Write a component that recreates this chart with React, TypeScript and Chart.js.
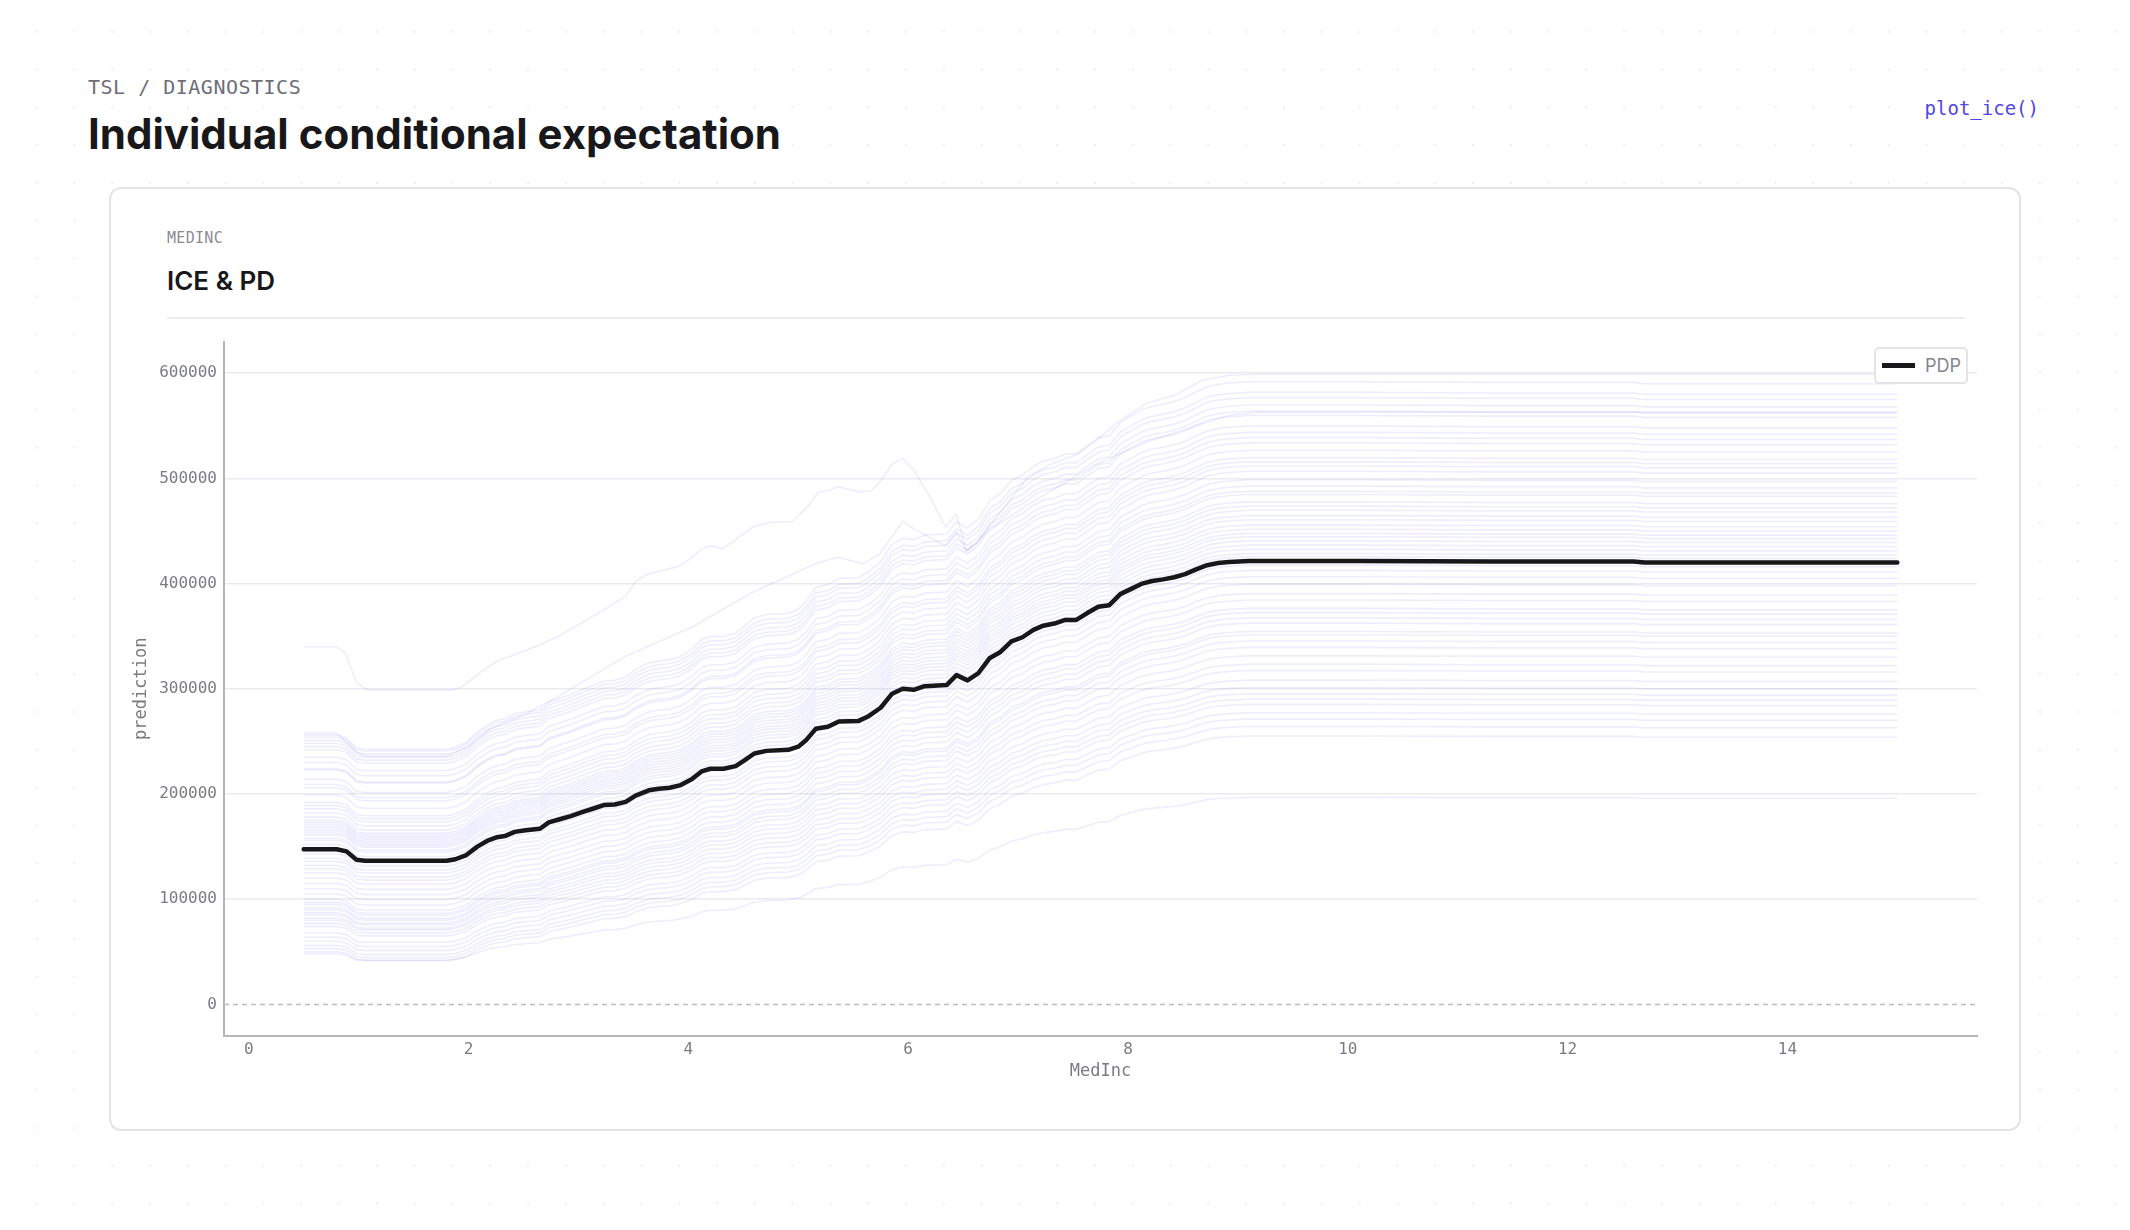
import React, { useEffect, useRef } from "react";
import { Chart, registerables } from "chart.js";

Chart.register(...registerables);

const MONO = '"DejaVu Sans Mono", "Liberation Mono", monospace';
const SANS = 'Inter, "Noto Sans", sans-serif';

// ---- axis ticks ----
const xTickValues = [0, 2, 4, 6, 8, 10, 12, 14];
const yTickValues = [0, 100000, 200000, 300000, 400000, 500000, 600000];

// ---- PDP (partial dependence) ----
const pdpX = [
  0.5, 0.8, 0.89, 0.98, 1.06, 1.8, 1.88, 1.98, 2.08, 2.18, 2.26, 2.33, 2.42, 2.52, 2.65, 2.73, 2.83, 2.93,
  3.04, 3.13, 3.23, 3.33, 3.43, 3.52, 3.64, 3.73, 3.83, 3.93, 4.03, 4.12, 4.2, 4.32, 4.43, 4.51, 4.6, 4.71,
  4.91, 5.0, 5.07, 5.16, 5.27, 5.37, 5.55, 5.64, 5.75, 5.85, 5.95, 6.05, 6.15, 6.35, 6.44, 6.54, 6.64, 6.74,
  6.84, 6.94, 7.04, 7.14, 7.23, 7.33, 7.43, 7.53, 7.63, 7.73, 7.83, 7.93, 8.03, 8.13, 8.22, 8.32, 8.42, 8.52,
  8.62, 8.72, 8.82, 8.92, 9.1, 10.1, 11.3, 12.6, 12.7, 15.0,
];
const pdpY = [
  147500, 147500, 145500, 137500, 136500, 136500, 138000, 142000, 150000, 156000, 159000, 160000, 164000,
  165500, 167000, 173000, 176000, 179000, 183000, 186000, 189500, 190000, 192500, 198500, 203500, 205000,
  206000, 208500, 214000, 221500, 224000, 224000, 226500, 232000, 238500, 241000, 242000, 245000, 251000,
  262000, 264000, 269000, 269500, 274000, 282000, 295000, 300000, 299000, 302500, 303500, 313000, 308000,
  315000, 329000, 335000, 345000, 349000, 356000, 360000, 362000, 365500, 365500, 372000, 378000, 379500,
  390000, 395000, 400000, 402500, 404000, 406000, 409000, 413500, 417500, 419500, 420500, 421500, 421500,
  421000, 421000, 420000, 420000,
];

// ---- ICE curves: left plateau level and right plateau level (thousands) ----
const iceStart = [
  256, 254, 251, 248, 245, 242, 235, 230, 224, 223, 214, 209, 206, 199, 192, 189, 186, 182, 178, 175, 173,
  171, 169, 167, 165, 163, 161, 158, 156, 152, 149, 146, 143, 139, 136, 132, 129, 125, 120, 115, 110, 105,
  100, 97, 95, 92, 90, 87, 85, 82, 80, 77, 74, 68, 64, 60, 56, 53, 50, 48,
];
const iceEnd = [
  590, 580, 575, 568, 562, 558, 548, 542, 537, 532, 525, 518, 514, 510, 505, 497, 491, 486, 483, 476, 472,
  468, 463, 459, 454, 450, 446, 443, 439, 435, 431, 427, 424, 416, 411, 405, 398, 389, 383, 375, 371, 366,
  361, 353, 350, 344, 338, 330, 322, 316, 307, 300, 294, 289, 284, 276, 270, 263, 254, 196,
];

// ---- individual outlier ICE curves (thousands) ----
const outlierAX = [
  0.5, 0.8, 0.88, 0.98, 1.08, 1.86, 1.94, 2.1, 2.27, 2.38, 2.63, 2.82, 3.02, 3.23, 3.43, 3.53, 3.63, 3.9, 4.0,
  4.12, 4.2, 4.31, 4.42, 4.59, 4.73, 4.95, 5.1, 5.18, 5.26, 5.36, 5.56, 5.66, 5.74, 5.85, 5.95, 6.05, 6.2,
  6.34, 6.44, 6.53, 6.62, 6.73, 6.88, 7.09, 7.29, 7.41, 7.54, 7.7, 7.9, 8.18, 8.43, 8.67, 8.92, 9.19, 15.0,
];
const outlierAY = [
  340, 340, 334, 306, 299, 299, 302, 315, 327, 331, 341, 350, 362, 375, 388, 403, 409, 416, 422, 433, 436,
  433, 441, 454, 458, 459, 475, 487, 488, 492, 487, 488, 496, 513, 519, 508, 482, 454, 466, 431, 438, 454,
  473, 502, 513, 518, 523, 535, 553, 572, 579, 593, 598, 599, 599,
];
const outlierBX = [
  0.5, 0.8, 0.98, 1.06, 1.8, 2.0, 2.2, 2.5, 2.82, 3.43, 4.04, 4.57, 5.16, 5.36, 5.59, 5.74, 5.95, 6.05, 6.34,
  6.44, 6.53, 6.73, 7.09, 7.7, 8.18, 8.92, 9.2, 15.0,
];
const outlierBY = [
  258, 258, 240, 236, 236, 245, 262, 275, 293, 331, 359, 391, 419, 425, 419, 428, 459, 452, 436, 449, 431,
  450, 475, 513, 535, 560, 563, 563,
];

const ICE_COLOR = "rgba(99, 91, 235, 0.11)";
const PDP_COLOR = "#18181b";
const AXIS_COLOR = "#b5b5bd";
const TEXT_GRAY = "#7b7b84";

const zeroLinePlugin = {
  id: "zeroLine",
  beforeDatasetsDraw(chart: any) {
    const { ctx, chartArea, scales } = chart;
    const py = scales.y.getPixelForValue(0);
    ctx.save();
    ctx.strokeStyle = "#bcbcc4";
    ctx.lineWidth = 1.5;
    ctx.setLineDash([5, 4]);
    ctx.beginPath();
    ctx.moveTo(chartArea.left, py);
    ctx.lineTo(chartArea.right, py);
    ctx.stroke();
    ctx.restore();
  },
};

function IceChart() {
  const ref = useRef<HTMLCanvasElement | null>(null);
  useEffect(() => {
    if (!ref.current) return;
    const y0 = pdpY[0];
    const y1 = pdpY[pdpY.length - 1];
    const datasets: any[] = [];
    datasets.push({
      label: "PDP",
      data: pdpX.map((x, i) => ({ x, y: pdpY[i] })),
      borderColor: PDP_COLOR,
      borderWidth: 4.5,
      pointRadius: 0,
      borderCapStyle: "round",
      borderJoinStyle: "round",
    });
    datasets.push({
      label: "ice-a",
      data: outlierAX.map((x, i) => ({ x, y: outlierAY[i] * 1000 })),
      borderColor: ICE_COLOR,
      borderWidth: 1.6,
      pointRadius: 0,
    });
    datasets.push({
      label: "ice-b",
      data: outlierBX.map((x, i) => ({ x, y: outlierBY[i] * 1000 })),
      borderColor: ICE_COLOR,
      borderWidth: 1.6,
      pointRadius: 0,
    });
    iceStart.forEach((s, i) => {
      const e = iceEnd[i];
      datasets.push({
        label: "ice-" + i,
        data: pdpX.map((x, k) => ({ x, y: (s + ((e - s) * (pdpY[k] - y0)) / (y1 - y0)) * 1000 })),
        borderColor: ICE_COLOR,
        borderWidth: 1.6,
        pointRadius: 0,
      });
    });

    const chart = new Chart(ref.current, {
      type: "line",
      data: { datasets },
      plugins: [zeroLinePlugin],
      options: {
        responsive: false,
        animation: false,
        parsing: false,
        layout: { padding: { top: 12, right: 13, bottom: 0, left: 0 } },
        elements: { line: { tension: 0 } },
        plugins: { legend: { display: false }, tooltip: { enabled: false } },
        scales: {
          x: {
            type: "linear",
            min: -0.225,
            max: 15.725,
            afterBuildTicks: (s: any) => {
              s.ticks = xTickValues.map((v) => ({ value: v }));
            },
            afterFit: (s: any) => {
              s.height = 74;
            },
            grid: { display: false, drawTicks: false },
            border: { display: true, color: AXIS_COLOR, width: 2 },
            ticks: {
              font: { family: MONO, size: 16 },
              color: TEXT_GRAY,
              padding: 4,
              maxRotation: 0,
              autoSkip: false,
              callback: (v: any) => String(v),
            },
            title: {
              display: true,
              text: "MedInc",
              font: { family: MONO, size: 17 },
              color: TEXT_GRAY,
              padding: { top: 0, bottom: 28 },
            },
          },
          y: {
            type: "linear",
            min: -30000,
            max: 630000,
            afterBuildTicks: (s: any) => {
              s.ticks = yTickValues.map((v) => ({ value: v }));
            },
            afterFit: (s: any) => {
              s.width = 104;
            },
            grid: {
              drawTicks: false,
              color: (ctx: any) => (ctx.tick && ctx.tick.value === 0 ? "rgba(0,0,0,0)" : "#ebebef"),
              lineWidth: 1.5,
            },
            border: { display: true, color: AXIS_COLOR, width: 2 },
            ticks: {
              font: { family: MONO, size: 16 },
              color: TEXT_GRAY,
              padding: 7,
              autoSkip: false,
              callback: (v: any) => String(v),
            },
            title: {
              display: true,
              text: "prediction",
              font: { family: MONO, size: 17 },
              color: TEXT_GRAY,
              padding: { top: 11, bottom: 0 },
            },
          },
        },
      } as any,
    });
    return () => chart.destroy();
  }, []);
  return (
    <canvas
      ref={ref}
      width={1870}
      height={785}
      style={{ position: "absolute", left: 120, top: 325, width: 1870, height: 785 }}
    />
  );
}

export default function App() {
  return (
    <div
      style={{
        position: "absolute",
        left: 0,
        top: 0,
        width: 2130,
        height: 1230,
        overflow: "hidden",
        backgroundColor: "#ffffff",
        backgroundImage: "radial-gradient(circle, #e2e2e6 0.5px, rgba(255,255,255,0) 1px)",
        backgroundSize: "37.8px 37.8px",
        backgroundPosition: "17.8px 12.8px",
      }}
    >
      <div
        style={{
          position: "absolute",
          left: 88,
          top: 77,
          fontFamily: MONO,
          fontSize: 20,
          lineHeight: "20px",
          letterSpacing: "0.5px",
          color: "#6e6e78",
          whiteSpace: "nowrap",
        }}
      >
        TSL / DIAGNOSTICS
      </div>
      <div
        style={{
          position: "absolute",
          left: 88,
          top: 113,
          fontFamily: SANS,
          fontWeight: 700,
          fontSize: 42,
          lineHeight: "42px",
          letterSpacing: "0px",
          color: "#18181b",
          whiteSpace: "nowrap",
        }}
      >
        Individual conditional expectation
      </div>
      <div
        style={{
          position: "absolute",
          right: 91,
          top: 99,
          fontFamily: MONO,
          fontSize: 19,
          lineHeight: "19px",
          color: "#5046e5",
          whiteSpace: "nowrap",
        }}
      >
        plot_ice()
      </div>
      <div
        style={{
          position: "absolute",
          left: 109,
          top: 187,
          width: 1912,
          height: 944,
          boxSizing: "border-box",
          border: "2px solid #e4e4e8",
          borderRadius: 12,
          background: "#ffffff",
        }}
      />
      <div
        style={{
          position: "absolute",
          left: 167,
          top: 231,
          fontFamily: MONO,
          fontSize: 15,
          lineHeight: "15px",
          letterSpacing: "0.3px",
          color: "#8b8b93",
        }}
      >
        MEDINC
      </div>
      <div
        style={{
          position: "absolute",
          left: 167,
          top: 268,
          fontFamily: SANS,
          fontWeight: 600,
          fontSize: 26,
          lineHeight: "26px",
          color: "#18181b",
          whiteSpace: "nowrap",
        }}
      >
        ICE &amp; PD
      </div>
      <div style={{ position: "absolute", left: 167, top: 317, width: 1797, height: 2, background: "#ececf0" }} />
      <IceChart />
      <div
        style={{
          position: "absolute",
          left: 1874,
          top: 347,
          width: 94,
          height: 37,
          boxSizing: "border-box",
          border: "2px solid #e4e4e8",
          borderRadius: 5,
          background: "#ffffff",
          display: "flex",
          alignItems: "center",
        }}
      >
        <div style={{ marginLeft: 6, width: 33, height: 4.5, background: PDP_COLOR }} />
        <div
          style={{
            marginLeft: 10,
            fontFamily: SANS,
            fontSize: 18,
            lineHeight: "18px",
            color: "#85858d",
          }}
        >
          PDP
        </div>
      </div>
    </div>
  );
}
